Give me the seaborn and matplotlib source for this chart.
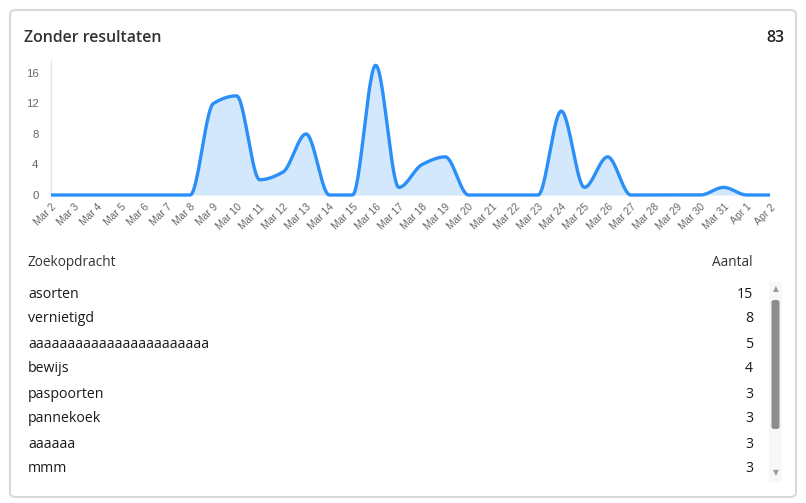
import numpy as np
import pandas as pd
import matplotlib
matplotlib.use("Agg")
import matplotlib.pyplot as plt
from matplotlib.patches import FancyBboxPatch
import seaborn as sns

# Daily searches without results
dates = ["Mar 2", "Mar 3", "Mar 4", "Mar 5", "Mar 6", "Mar 7", "Mar 8", "Mar 9",
         "Mar 10", "Mar 11", "Mar 12", "Mar 13", "Mar 14", "Mar 15", "Mar 16",
         "Mar 17", "Mar 18", "Mar 19", "Mar 20", "Mar 21", "Mar 22", "Mar 23",
         "Mar 24", "Mar 25", "Mar 26", "Mar 27", "Mar 28", "Mar 29", "Mar 30",
         "Mar 31", "Apr 1", "Apr 2"]
counts = [0, 0, 0, 0, 0, 0, 0, 12, 13, 2, 3, 8, 0, 0, 17, 1, 4, 5, 0, 0, 0, 0,
          11, 1, 5, 0, 0, 0, 0, 1, 0, 0]

# Top search terms
terms = ["asorten", "vernietigd", "aaaaaaaaaaaaaaaaaaaaaaa", "bewijs",
         "paspoorten", "pannekoek", "aaaaaa", "mmm"]
term_counts = [15, 8, 5, 4, 3, 3, 3, 3]

title = "Zonder resultaten"
total = sum(counts)
y_ticks = [0, 4, 8, 12, 16]


def monotone_curve(y, samples=30):
    """Monotone cubic (Fritsch-Carlson) curve through equally spaced points."""
    y = np.asarray(y, dtype=float)
    n = len(y)
    x = np.arange(n, dtype=float)
    d = np.diff(y)
    m = np.zeros(n)
    m[0], m[-1] = d[0], d[-1]
    for i in range(1, n - 1):
        if d[i - 1] * d[i] <= 0:
            m[i] = 0.0
        else:
            m[i] = 2.0 / (1.0 / d[i - 1] + 1.0 / d[i])
    xs, ys = [], []
    for i in range(n - 1):
        t = np.linspace(0, 1, samples, endpoint=False)
        h00 = 2 * t**3 - 3 * t**2 + 1
        h10 = t**3 - 2 * t**2 + t
        h01 = -2 * t**3 + 3 * t**2
        h11 = t**3 - t**2
        xs.append(x[i] + t)
        ys.append(h00 * y[i] + h10 * m[i] + h01 * y[i + 1] + h11 * m[i + 1])
    xs.append([x[-1]])
    ys.append([y[-1]])
    return np.concatenate(xs), np.concatenate(ys)


sns.set_theme(style="white")
plt.rcParams["font.family"] = ["Open Sans", "DejaVu Sans"]

W, H = 806, 503
fig = plt.figure(figsize=(W / 100, H / 100), dpi=100)
fig.patch.set_facecolor("white")

# Card outline
card = FancyBboxPatch((10 / W, 6 / H), 786 / W, 487 / H,
                      boxstyle="round,pad=0,rounding_size=0.008",
                      transform=fig.transFigure, facecolor="none",
                      edgecolor="#d9d9d9", linewidth=1.5, zorder=-5)
fig.patches.append(card)

# Chart area
left, right, top, bottom = 51, 770, 60, 195
ax = fig.add_axes([left / W, 1 - bottom / H, (right - left) / W, (bottom - top) / H])
ax.set_facecolor("none")
ax.set_zorder(2)

xs, ys = monotone_curve(counts)
curve = pd.DataFrame({"x": xs, "y": ys})
ax.fill_between(curve["x"], 0, curve["y"], color="#d3e8fd", linewidth=0, zorder=1)
sns.lineplot(data=curve, x="x", y="y", ax=ax, color="#2b8ff8", linewidth=2.4,
             zorder=3, clip_on=False, solid_capstyle="butt")

ax.set_xlim(0, len(counts) - 1)
ax.set_ylim(0, 17.7)
ax.set_xlabel("")
ax.set_ylabel("")
ax.set_yticks(y_ticks)
ax.set_yticklabels([str(v) for v in y_ticks], family=["Liberation Sans"],
                   fontsize=8.2, color="#666666")
ax.set_xticks(range(len(dates)))
ax.set_xticklabels(dates, rotation=45, ha="right", va="top",
                   rotation_mode="anchor", family=["Liberation Sans"],
                   fontsize=7.4, color="#666666")
ax.tick_params(axis="both", length=0)
ax.tick_params(axis="y", pad=9)
ax.tick_params(axis="x", pad=5)
for side in ("top", "right", "bottom"):
    ax.spines[side].set_visible(False)
ax.spines["left"].set_color("#e6e6e6")
ax.spines["left"].set_linewidth(1)
ax.grid(False)

# Header
fig.text(24 / W, 1 - 38 / H, title, fontsize=11.4, fontweight="semibold",
         color="#333333", va="center", ha="left")
fig.text(784 / W, 1 - 38 / H, str(total), fontsize=11.4, fontweight="semibold",
         color="#222222", va="center", ha="right")

# Table of search terms
fig.text(28 / W, 1 - 263 / H, "Zoekopdracht", fontsize=9.8, fontweight="medium",
         color="#333333", va="center", ha="left")
fig.text(753 / W, 1 - 263 / H, "Aantal", fontsize=9.8, fontweight="medium",
         color="#333333", va="center", ha="right")
for i, (term, n) in enumerate(zip(terms, term_counts)):
    yy = 1 - (294 + 25 * i) / H
    fig.text(28 / W, yy, term, fontsize=10.2, color="#1a1a1a", va="center", ha="left")
    fig.text(753 / W, yy, str(n), fontsize=10.2, color="#1a1a1a", va="center", ha="right")

# Scrollbar
track = FancyBboxPatch((769 / W, 1 - 482 / H), 13 / W, 200 / H,
                       boxstyle="square,pad=0", transform=fig.transFigure,
                       facecolor="#f7f7f7", edgecolor="none")
fig.patches.append(track)
thumb = FancyBboxPatch((771.5 / W, 1 - 429 / H), 8 / W, 129 / H,
                       boxstyle="round,pad=0,rounding_size=0.004",
                       transform=fig.transFigure, facecolor="#8c8c8c",
                       edgecolor="none")
fig.patches.append(thumb)
fig.text(775.5 / W, 1 - 289 / H, "\u25B2", fontsize=5.5, color="#9a9a9a",
         ha="center", va="center", family=["DejaVu Sans"])
fig.text(775.5 / W, 1 - 473 / H, "\u25BC", fontsize=5.5, color="#9a9a9a",
         ha="center", va="center", family=["DejaVu Sans"])

fig.savefig("out.png", dpi=100, facecolor="white")
